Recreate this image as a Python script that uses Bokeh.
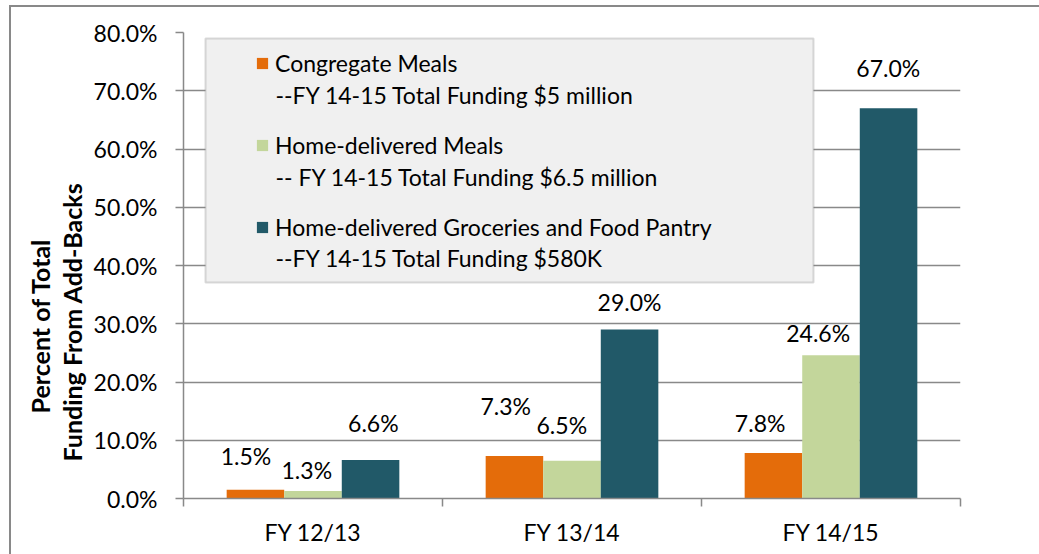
from bokeh.plotting import figure
from bokeh.models import (Range1d, FixedTicker, PrintfTickFormatter, Legend, LegendItem,
                          BoxAnnotation, Label, Title, ColumnDataSource)
from bokeh.core.properties import value
from bokeh.embed import file_html
from bokeh.resources import INLINE

# ---------------- data ----------------
categories = ["FY 12/13", "FY 13/14", "FY 14/15"]
congregate_meals = [1.5, 7.3, 7.8]
home_delivered_meals = [1.3, 6.5, 24.6]
groceries_food_pantry = [6.6, 29.0, 67.0]
series_names = ["Congregate Meals", "Home-delivered Meals",
                "Home-delivered Groceries and Food Pantry"]
series_notes = ["--FY 14-15 Total Funding $5 million",
                "-- FY 14-15 Total Funding $6.5 million",
                "--FY 14-15 Total Funding $580K"]
y_ticks = [0, 10, 20, 30, 40, 50, 60, 70, 80]
y_title = ["Percent of Total", "Funding From Add-Backs"]

# ---------------- style ----------------
colors = ["#E46C0A", "#C3D69B", "#215968"]
GRAY = "#898989"
FONT = "Lato"
FS = "23px"
# manual nudges of the data labels (pixels: dx right, dy up from bar top to text centre)
label_dx = [[-9.5, -8.7, -13.3], [-6.2, -10.2, -12.8], [2.8, 0.0, -0.3]]
label_dy = [[33.7, 49.8, 30.4], [20.7, 35.4, 22.5], [36.6, 27.1, 40.5]]

series = [congregate_meals, home_delivered_meals, groceries_food_pantry]
n_cat = len(categories)
bw = 1.0 / 4.5

p = figure(width=1028, height=547, x_range=Range1d(0, n_cat), y_range=Range1d(0, 80),
           output_backend="svg", toolbar_location=None,
           min_border_left=172, min_border_right=79, min_border_top=25, min_border_bottom=56,
           outline_line_color=None, background_fill_color="white", border_fill_color="white")
# outer chart frame: outline sits just outside the element (left and top edges visible)
p.styles = {"margin-left": "11px", "margin-top": "7px", "outline": f"2px solid {GRAY}"}

renderers = []
for s, vals in enumerate(series):
    xs = [i + 0.5 + (s - 1) * bw for i in range(n_cat)]
    src = ColumnDataSource(dict(x=xs, top=vals,
                                label=[f"{v:.1f}%" for v in vals],
                                dx=label_dx[s],
                                dy=[-d for d in label_dy[s]]))
    r = p.vbar(x="x", top="top", width=bw, bottom=0, source=src,
               fill_color=colors[s], line_color=None)
    renderers.append(r)
    p.text(x="x", y="top", text="label", x_offset="dx", y_offset="dy", source=src,
           text_align="center", text_baseline="middle",
           text_font=value(FONT), text_font_size=FS, text_color="black")

# y axis
p.yaxis.ticker = FixedTicker(ticks=y_ticks)
p.yaxis.formatter = PrintfTickFormatter(format="%.1f%%")
p.yaxis.major_tick_out = 8
p.yaxis.major_tick_in = 0
p.yaxis.minor_tick_line_color = None
p.yaxis.major_tick_line_color = GRAY
p.yaxis.major_tick_line_width = 1.5
p.yaxis.axis_line_color = GRAY
p.yaxis.axis_line_width = 1.5
p.yaxis.major_label_standoff = 18
p.yaxis.major_label_text_font = FONT
p.yaxis.major_label_text_font_size = FS
p.yaxis.major_label_text_color = "black"

p.ygrid.ticker = FixedTicker(ticks=y_ticks)
p.ygrid.grid_line_color = GRAY
p.ygrid.grid_line_width = 1.5
p.xgrid.visible = False

# x axis: labels at category centres, ticks at category boundaries
p.xaxis.ticker = FixedTicker(ticks=[i + 0.5 for i in range(n_cat)],
                             minor_ticks=list(range(n_cat + 1)))
p.xaxis.major_label_overrides = {i + 0.5: c for i, c in enumerate(categories)}
p.xaxis.major_tick_line_color = None
p.xaxis.major_tick_out = 0
p.xaxis.major_tick_in = 0
p.xaxis.minor_tick_out = 8
p.xaxis.minor_tick_in = 0
p.xaxis.minor_tick_line_color = GRAY
p.xaxis.minor_tick_line_width = 1.5
p.xaxis.axis_line_color = GRAY
p.xaxis.axis_line_width = 1.5
p.xaxis.major_label_standoff = 11
p.xaxis.major_label_text_font = FONT
p.xaxis.major_label_text_font_size = FS
p.xaxis.major_label_text_color = "black"

# y title: two bold lines as left-side titles (closest first), placed from the frame bottom
for txt, off, so in [(y_title[1], 37, 7), (y_title[0], 85, -7)]:
    p.add_layout(Title(text=txt, align="left", offset=off, standoff=so,
                       text_font=FONT, text_font_style="bold", text_font_size="25px",
                       text_color="black"), "left")

# legend box
p.add_layout(BoxAnnotation(left=22, right=630, top=460, bottom=216,
                           left_units="screen", right_units="screen",
                           top_units="screen", bottom_units="screen",
                           fill_color="#F0F0F0", fill_alpha=1.0,
                           line_color=GRAY, line_width=2))

legend = Legend(items=[LegendItem(label=n, renderers=[r]) for n, r in zip(series_names, renderers)],
                location=(72, 257), padding=0, spacing=54, margin=0,
                glyph_width=14, glyph_height=14, label_height=28, label_standoff=6,
                border_line_color=None, background_fill_alpha=0,
                label_text_font=FONT, label_text_font_size=FS, label_text_color="black")
p.add_layout(legend)

for k, note in enumerate(series_notes):
    p.add_layout(Label(x=92, y=403.3 - 81.6 * k, x_units="screen", y_units="screen",
                       text=note, text_align="left", text_baseline="middle",
                       text_font=FONT, text_font_size=FS, text_color="black"))

open("out.html", "w").write(file_html(p, INLINE))
